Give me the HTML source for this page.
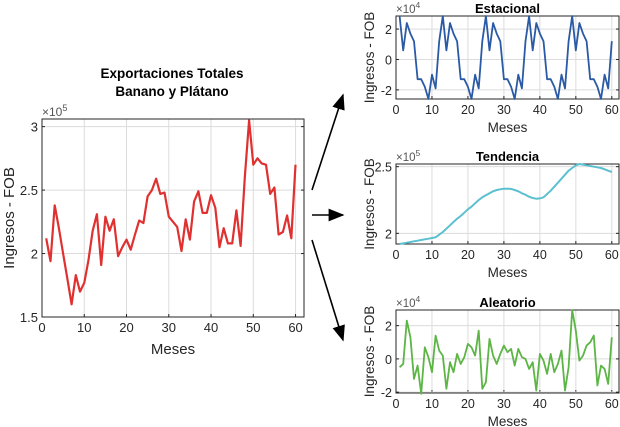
<!DOCTYPE html>
<html><head><meta charset="utf-8"><style>
body{margin:0;background:#fff;}
svg{display:block;font-family:"Liberation Sans",Arial,sans-serif;}
</style></head><body>
<svg id="c" width="620" height="427" viewBox="0 0 620 427">
<defs><marker id="ah" markerWidth="10" markerHeight="8" refX="9" refY="4" orient="auto"><path d="M0,0 L10,4 L0,8 z" fill="#000"/></marker></defs>
<text x="172" y="78" text-anchor="middle" font-size="13.5" font-weight="bold">Exportaciones Totales</text>
<text x="172" y="96" text-anchor="middle" font-size="13.5" font-weight="bold">Banano y Plátano</text>
<line x1="312" y1="190" x2="343" y2="95" stroke="#000" stroke-width="1.6" marker-end="url(#ah)"/>
<line x1="312" y1="215" x2="343" y2="215" stroke="#000" stroke-width="1.6" marker-end="url(#ah)"/>
<line x1="312" y1="240" x2="343" y2="340" stroke="#000" stroke-width="1.6" marker-end="url(#ah)"/>
</svg>
<script>
const months = [];
for (let i = 1; i <= 60; i++) months.push(i);
const totalValues = [2.12,1.94,2.38,2.2,2.0,1.8,1.6,1.83,1.7,1.77,1.95,2.18,2.31,1.91,2.29,2.18,2.27,1.98,2.05,2.11,2.03,2.15,2.26,2.24,2.45,2.5,2.59,2.47,2.48,2.29,2.25,2.21,2.02,2.27,2.11,2.41,2.49,2.32,2.32,2.46,2.36,2.05,2.2,2.08,2.08,2.34,2.06,2.6,3.05,2.7,2.75,2.71,2.7,2.47,2.52,2.15,2.17,2.3,2.12,2.7];
const seasonalValues = [2.86,0.6,2.4,1.7,1.2,-1.3,-1.3,-1.8,-2.6,-1.0,-1.9,1.2,2.86,0.6,2.4,1.7,1.2,-1.3,-1.3,-1.8,-2.6,-1.0,-1.9,1.2,2.86,0.6,2.4,1.7,1.2,-1.3,-1.3,-1.8,-2.6,-1.0,-1.9,1.2,2.86,0.6,2.4,1.7,1.2,-1.3,-1.3,-1.8,-2.6,-1.0,-1.9,1.2,2.86,0.6,2.4,1.7,1.2,-1.3,-1.3,-1.8,-2.6,-1.0,-1.9,1.2];
const trendValues = [1.92,1.925,1.93,1.935,1.94,1.945,1.95,1.955,1.96,1.965,1.97,1.99,2.01,2.035,2.06,2.085,2.11,2.13,2.155,2.18,2.2,2.225,2.25,2.27,2.285,2.3,2.315,2.325,2.33,2.335,2.335,2.333,2.325,2.315,2.3,2.29,2.275,2.265,2.26,2.262,2.27,2.295,2.32,2.35,2.38,2.41,2.44,2.47,2.49,2.51,2.52,2.515,2.51,2.505,2.5,2.495,2.49,2.48,2.47,2.46];
const randomValues = [-0.5,-0.3,2.3,1.3,-1.2,-0.4,-2.1,0.7,0.1,-0.8,1.4,0.5,0.2,-1.8,-0.2,-0.8,0.3,-0.3,0.1,0.9,0.7,0.2,1.7,-1.8,-1.4,1.2,0.2,-0.3,0.3,0.8,0.4,0.6,-0.4,0.6,0.1,0.0,-0.6,-0.2,-1.9,0.3,-0.1,-0.9,0.3,-0.8,-0.3,0.5,-1.9,-0.5,2.94,1.7,-0.1,0.2,0.8,1.0,1.4,-1.6,-0.4,-0.6,-1.5,1.3];
const xTicks = [0,10,20,30,40,50,60];
const mainYTicks = [1.5,2,2.5,3];
const mainYLabels = ["1.5","2","2.5","3"];
const seasYTicks = [-2,0,2];
const trendYTicks = [2,2.5];
const trendYLabels = ["2","2.5"];
const randYTicks = [-2,0,2];

const svg = document.getElementById('c');
const NS = 'http://www.w3.org/2000/svg';
function mk(tag, attrs, parent){const e=document.createElementNS(NS,tag);for(const k in attrs)e.setAttribute(k,attrs[k]);(parent||svg).appendChild(e);return e;}

function chart(o){
  const g = mk('g',{});
  
  
  const sx = v => o.L + (v - 0) / 62 * (o.R - o.L);
  const sy = v => o.B - (v - o.ymin) / (o.ymax - o.ymin) * (o.B - o.T);
  mk('rect',{x:o.L,y:o.T,width:o.R-o.L,height:o.B-o.T,fill:'#fff'},g);
  xTicks.forEach(t=>{
    const x=sx(t);
    const gl=mk('line',{x1:x,y1:o.T,x2:x,y2:o.B,stroke:'#dcdcdc','stroke-width':1},g);
    
    
    mk('line',{x1:x,y1:o.B,x2:x,y2:o.B-3,stroke:'#262626'},g);
    const tx=mk('text',{x:x,y:o.B+15,'text-anchor':'middle','font-size':o.fs,fill:'#262626'},g);
    tx.textContent=t;
    
    
  });
  o.yt.forEach((t,i)=>{
    const y=sy(t);
    const gl=mk('line',{x1:o.L,y1:y,x2:o.R,y2:y,stroke:'#dcdcdc','stroke-width':1},g);
    
    
    mk('line',{x1:o.L,y1:y,x2:o.L+3,y2:y,stroke:'#262626'},g);
    mk('line',{x1:o.R,y1:y,x2:o.R-3,y2:y,stroke:'#262626'},g);
    const tx=mk('text',{x:o.L-4,y:y+5,'text-anchor':'end','font-size':o.fs,fill:'#262626'},g);
    tx.textContent=o.yl?o.yl[i]:t;
    
    
  });
  mk('rect',{x:o.L,y:o.T,width:o.R-o.L,height:o.B-o.T,fill:'none',stroke:'#262626','stroke-width':1},g);
  const pts=months.map((m,i)=>sx(m).toFixed(1)+','+sy(o.data[i]).toFixed(1)).join(' ');
  const pl=mk('polyline',{points:pts,fill:'none',stroke:o.color,'stroke-width':o.sw,'stroke-linejoin':'round'},g);
  
  
  const ex=mk('text',{x:o.L,y:o.T-3,'font-size':o.fs-1,fill:'#555'},g);
  ex.textContent='×10';
  
  
  const es=mk('tspan',{dy:-5,'font-size':o.fs-4},ex); es.textContent=o.exp;
  const xl=mk('text',{x:(o.L+o.R)/2,y:o.B+(o.big?37:33),'text-anchor':'middle','font-size':o.big?15:13.5,fill:'#262626'},g);
  xl.textContent='Meses';
  
  
  const yx=o.ylx, yy=(o.T+o.B)/2;
  const yl=mk('text',{x:yx,y:yy,'text-anchor':'middle','font-size':o.big?15:13.5,fill:'#262626',transform:`rotate(-90 ${yx} ${yy})`},g);
  yl.textContent='Ingresos - FOB';
  
  
  if(o.title){
    const tt=mk('text',{x:(o.L+o.R)/2,y:o.T-3,'text-anchor':'middle','font-size':13,'font-weight':'bold',fill:'#000'},g);
    tt.textContent=o.title;
    
    
  }
}
chart({name:'total-chart',L:42,R:304,T:119,B:317,ymin:1.5,ymax:3.06,yt:mainYTicks,yl:mainYLabels,data:totalValues,color:'#e03030',sw:2.2,fs:13,exp:'5',big:true,ylx:14});
chart({name:'estacional-chart',L:396,R:619,T:16,B:99,ymin:-2.6,ymax:2.86,yt:seasYTicks,data:seasonalValues,color:'#2a5aa5',sw:1.8,fs:12.5,exp:'4',ylx:374,title:'Estacional'});
chart({name:'tendencia-chart',L:396,R:619,T:164,B:244,ymin:1.92,ymax:2.52,yt:trendYTicks,yl:trendYLabels,data:trendValues,color:'#5bc0d0',sw:2,fs:12.5,exp:'5',ylx:374,title:'Tendencia'});
chart({name:'aleatorio-chart',L:396,R:619,T:310,B:393,ymin:-2.05,ymax:2.94,yt:randYTicks,data:randomValues,color:'#5cb545',sw:1.8,fs:12.5,exp:'4',ylx:374,title:'Aleatorio'});
</script>
</body></html>
